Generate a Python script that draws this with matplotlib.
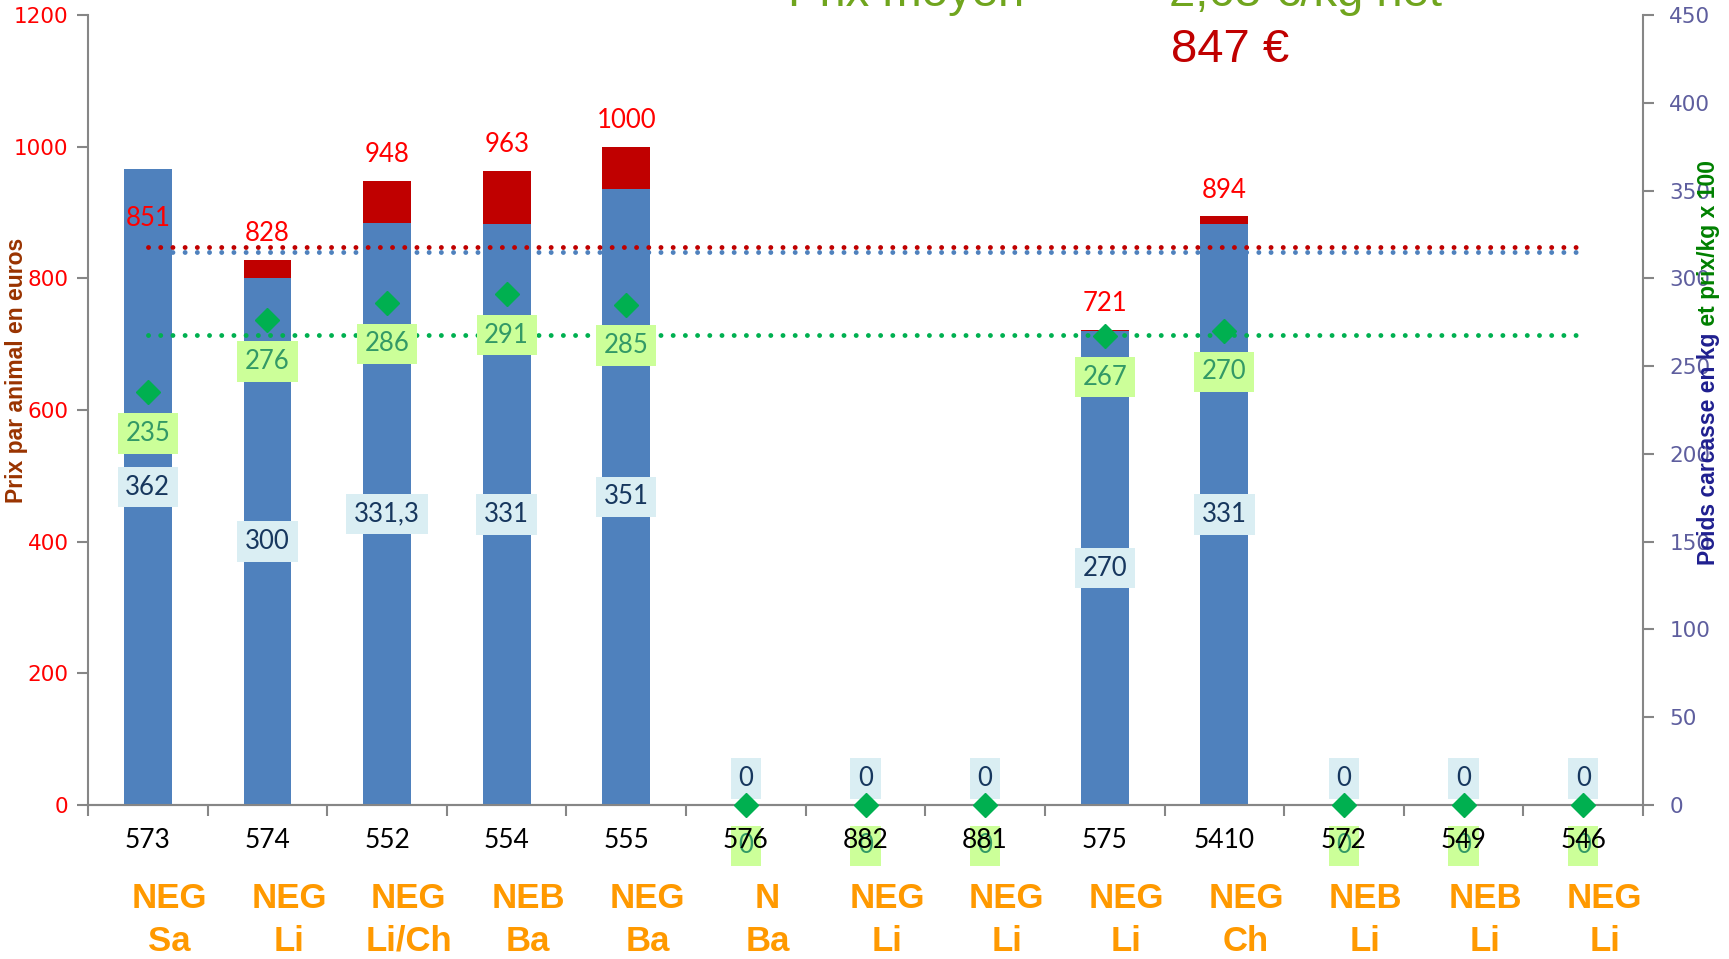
import matplotlib
matplotlib.use("Agg")
import matplotlib.pyplot as plt
import matplotlib.transforms as mtransforms

# data
ids = ["573", "574", "552", "554", "555", "576", "882", "881", "575", "5410", "572", "549", "546"]
breeds = ["NEG\nSa", "NEG\nLi", "NEG\nLi/Ch", "NEB\nBa", "NEG\nBa", "N\nBa", "NEG\nLi",
          "NEG\nLi", "NEG\nLi", "NEG\nCh", "NEB\nLi", "NEB\nLi", "NEG\nLi"]
prices = [851, 828, 948, 963, 1000, 0, 0, 0, 721, 894, 0, 0, 0]
weights = [362, 300, 331.3, 331, 351, 0, 0, 0, 270, 331, 0, 0, 0]
price_kg = [235, 276, 286, 291, 285, 0, 0, 0, 267, 270, 0, 0, 0]
mean_price = 847
mean_weight = 315
mean_price_kg = 268

LABEL_FONT = ["Lato", "DejaVu Sans"]
SANS = ["Liberation Sans", "DejaVu Sans"]
BLUE = "#4F81BD"
RED = "#C00000"
GREEN = "#00B050"
GRID = "#868686"

W, H = 1729, 959
fig = plt.figure(figsize=(W / 100, H / 100), dpi=100)
ax = fig.add_axes([88 / W, 1 - 805 / H, (1643 - 88) / W, (805 - 15) / H])
ax2 = ax.twinx()

x = list(range(len(ids)))

# price bars (left axis) behind, weight bars (right axis) in front
ax.bar(x, prices, width=0.4, color=RED, zorder=2)
ax2.bar(x, weights, width=0.4, color=BLUE, zorder=2)

# mean lines
dots = (0, (0.01, 2.5))
ax2.plot([0, 12], [mean_price, mean_price], transform=ax.transData, color=RED,
         lw=3.5, ls=dots, dash_capstyle="round", zorder=3)
ax2.plot([0, 12], [mean_weight, mean_weight], color=BLUE,
         lw=3.5, ls=dots, dash_capstyle="round", zorder=3)
ax2.plot([0, 12], [mean_price_kg, mean_price_kg], color=GREEN,
         lw=3.5, ls=dots, dash_capstyle="round", zorder=3)

# price per kg markers
ax2.plot(x, price_kg, ls="none", marker="D", ms=12, color=GREEN, zorder=6, clip_on=False)

for i in x:
    w = weights[i]
    txt = f"{w:g}".replace(".", ",")
    ax2.annotate(txt, (i, w / 2), xytext=(0, 0 if w else 19), textcoords="offset points",
                 ha="center", va="center", fontsize=18.5, family=LABEL_FONT, color="#17375E",
                 bbox=dict(boxstyle="square,pad=0.3", fc="#DAEEF3", ec="none"),
                 zorder=5, annotation_clip=False)
    ax2.annotate(str(price_kg[i]), (i, price_kg[i]), xytext=(0, -29.5), textcoords="offset points",
                 ha="center", va="center", fontsize=18.5, family=LABEL_FONT, color="#339966",
                 bbox=dict(boxstyle="square,pad=0.3", fc="#CCFF99", ec="none"),
                 zorder=5, annotation_clip=False)
    if prices[i]:
        ax2.annotate(str(prices[i]), (i, prices[i]), xycoords=ax.transData,
                     xytext=(0, 19), textcoords="offset points", ha="center", va="center",
                     fontsize=18.5, family=LABEL_FONT, color="#FF0000", zorder=5)

# axes
ax.set_xlim(-0.5, len(ids) - 0.5)
ax.set_ylim(0, 1200)
ax2.set_ylim(0, 450)
ax.set_yticks(range(0, 1201, 200))
ax2.set_yticks(range(0, 451, 50))
ax.set_xticks([i - 0.5 for i in range(len(ids) + 1)])
ax.set_xticklabels([])
ax.tick_params(axis="x", direction="out", length=8, width=1.5, color=GRID)
ax.tick_params(axis="y", direction="out", length=8, width=1.5, color=GRID, pad=6,
               labelsize=15.5, labelcolor="#FF0000")
ax2.tick_params(axis="y", direction="out", length=8, width=1.5, color=GRID, pad=11,
                labelsize=15.5, labelcolor="#5E5E9E")
for a in (ax, ax2):
    a.spines["top"].set_visible(False)
    for s in ("left", "right", "bottom"):
        a.spines[s].set_color(GRID)
        a.spines[s].set_linewidth(1.5)
ax2.spines["left"].set_visible(False)
ax.spines["right"].set_visible(False)

# category labels
blend = mtransforms.blended_transform_factory(ax.transData, fig.transFigure)
for i in x:
    ax2.text(i, 1 - 840 / H, ids[i], transform=blend, ha="center", va="center",
             fontsize=19, family=LABEL_FONT, color="black", zorder=7, clip_on=False)
    ax2.text(i + 0.18, 1 - 920 / H, breeds[i], transform=blend, ha="center", va="center",
             fontsize=25, family=SANS, weight="bold", color="#FF9900",
             linespacing=1.38, clip_on=False)

# axis titles
fig.text(16.5 / W, 1 - 370 / H, "Prix par animal en euros", rotation=90, ha="center",
         va="center", fontsize=16.5, family=SANS, weight="bold", color="#993300")
t1 = fig.text(1709 / W, 1 - 565 / H, "Poids carcasse en kg", rotation=90, ha="center",
              va="bottom", fontsize=16.5, family=SANS, weight="bold", color="#1F1F8F")
fig.canvas.draw()
top = t1.get_window_extent().y1 / fig.bbox.height
fig.text(1709 / W, top, " et prix/kg x 100", rotation=90, ha="center", va="bottom",
         fontsize=16.5, family=SANS, weight="bold", color="#008000")

# header
fig.text(788 / W, 1 - 6 / H, "Prix moyen", ha="left", va="baseline", fontsize=34,
         family=SANS, color="#70A51E")
fig.text(1169 / W, 1 - 6 / H, "2,68 €/kg net", ha="left", va="baseline", fontsize=34,
         family=SANS, color="#70A51E")
fig.text(1171 / W, 1 - 62 / H, "847 €", ha="left", va="baseline", fontsize=34,
         family=SANS, color=RED)

fig.savefig("out.png", dpi=100)
